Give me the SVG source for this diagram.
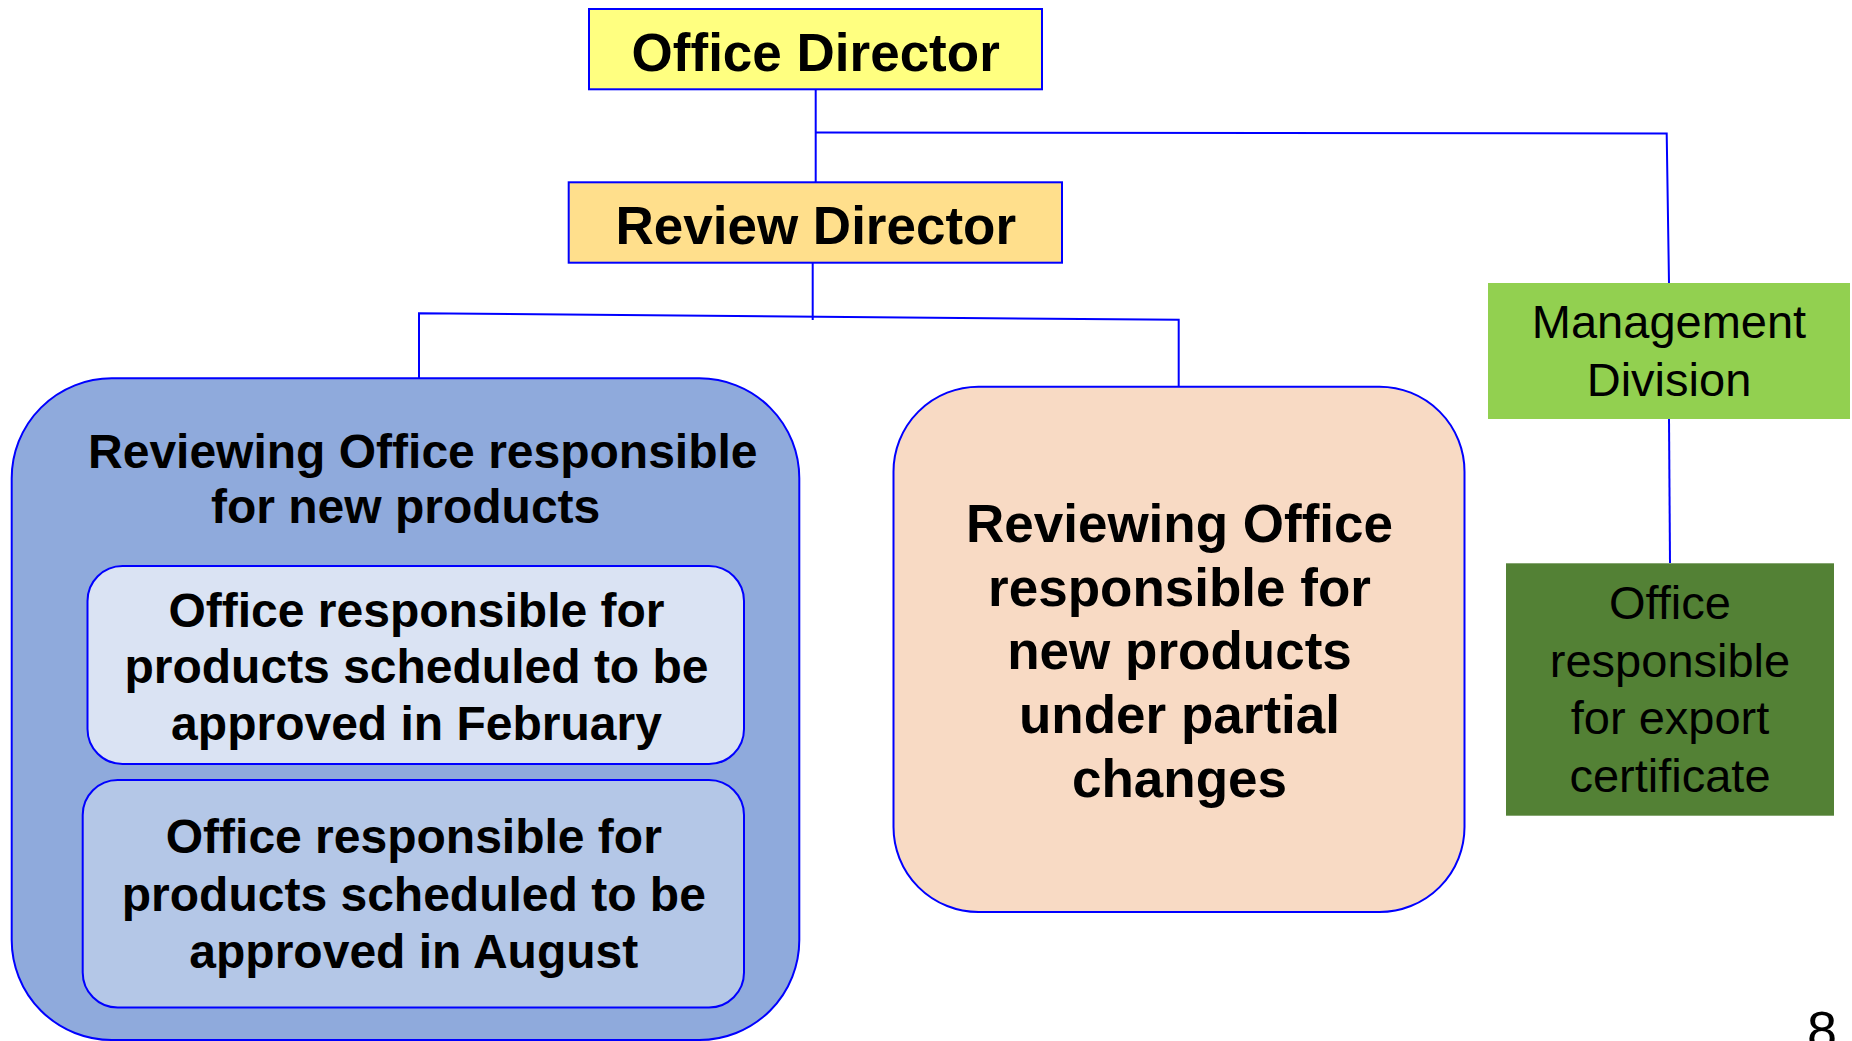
<svg xmlns="http://www.w3.org/2000/svg" width="1852" height="1041" viewBox="0 0 1852 1041">
<style>
.ln{fill:none;stroke:#0000FF;stroke-width:2}
.bx{stroke:#0000FF;stroke-width:2}
.b53{font-family:"Liberation Sans",Arial,sans-serif;font-weight:bold;font-size:53px;fill:#000;text-anchor:middle}
.b48{font-family:"Liberation Sans",Arial,sans-serif;font-weight:bold;font-size:48px;fill:#000;text-anchor:middle}
.r47{font-family:"Liberation Sans",Arial,sans-serif;font-size:47px;fill:#000;text-anchor:middle}
</style>
<rect width="1852" height="1041" fill="#FFFFFF"/>
<g id="connectors">
<path class="ln" d="M815.7,89 V182.5"/>
<path class="ln" d="M815.7,132.5 L1666.7,133.5 L1669,283"/>
<path class="ln" d="M812.7,262.7 V320"/>
<path class="ln" d="M419,378.5 V313.3 L1178.7,319.8 V386.5"/>
<path class="ln" d="M1669,419 L1670,563"/>
</g>
<g id="office-director">
<rect class="bx" x="589" y="9" width="453" height="80.3" fill="#FFFF80"/>
<text class="b53" x="815.7" y="71">Office Director</text>
</g>
<g id="review-director">
<rect class="bx" x="568.7" y="182.3" width="493.3" height="80.4" fill="#FFDF8C"/>
<text class="b53" x="815.8" y="244.3">Review Director</text>
</g>
<g id="reviewing-office-new">
<rect class="bx" x="11.7" y="378.3" width="787.6" height="661.7" rx="100" ry="100" fill="#8FAADC"/>
<text class="b48" x="422.8" y="468.3">Reviewing Office responsible</text>
<text class="b48" x="405.6" y="523.3">for new products</text>
</g>
<g id="office-february">
<rect class="bx" x="87.5" y="566" width="656.5" height="198" rx="35" ry="35" fill="#DAE3F3"/>
<text class="b48" x="416.5" y="626.7">Office responsible for</text>
<text class="b48" x="416.5" y="683.3">products scheduled to be</text>
<text class="b48" x="416.5" y="740">approved in February</text>
</g>
<g id="office-august">
<rect class="bx" x="82.7" y="780" width="661.3" height="227.5" rx="35" ry="35" fill="#B4C7E7"/>
<text class="b48" x="413.8" y="852.8">Office responsible for</text>
<text class="b48" x="413.8" y="910.6">products scheduled to be</text>
<text class="b48" x="413.8" y="968">approved in August</text>
</g>
<g id="reviewing-office-partial">
<rect class="bx" x="893.5" y="386.7" width="571" height="525.3" rx="85" ry="85" fill="#F8DAC4"/>
<text class="b53" x="1179.5" y="541.7">Reviewing Office</text>
<text class="b53" x="1179.5" y="605.7">responsible for</text>
<text class="b53" x="1179.5" y="669">new products</text>
<text class="b53" x="1179.5" y="733">under partial</text>
<text class="b53" x="1179.5" y="797">changes</text>
</g>
<g id="management-division">
<rect x="1488" y="283" width="362" height="136" fill="#92D050"/>
<text class="r47" x="1669" y="338">Management</text>
<text class="r47" x="1669" y="396">Division</text>
</g>
<g id="export-office">
<rect x="1506" y="563.3" width="328" height="252.4" fill="#538135"/>
<text class="r47" x="1670" y="619.3">Office</text>
<text class="r47" x="1670" y="676.7">responsible</text>
<text class="r47" x="1670" y="734">for export</text>
<text class="r47" x="1670" y="791.7">certificate</text>
</g>
<text x="1807" y="1048.5" font-family="Liberation Sans, Arial, sans-serif" font-size="54" fill="#000">8</text>
</svg>
